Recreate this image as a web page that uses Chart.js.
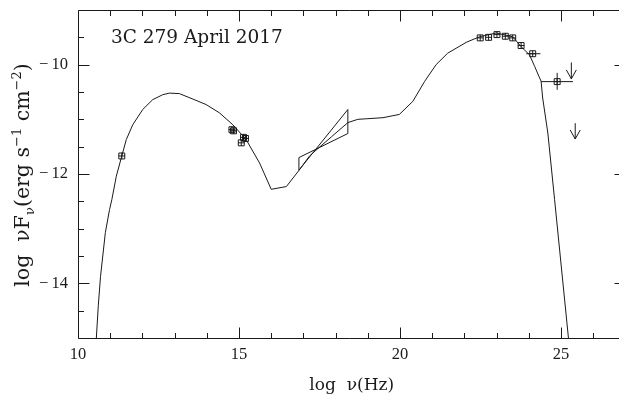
<!DOCTYPE html>
<html><head><meta charset="utf-8">
<script src="https://cdn.jsdelivr.net/npm/chart.js@4"></script>
<style>html,body{margin:0;padding:0;overflow:hidden;background:#fff}canvas{display:block}</style>
</head><body>
<canvas id="c" width="619" height="396"></canvas>
<script>
// ---- data (log nu [Hz], log nuFnu [erg s^-1 cm^-2]) ----
const modelX = [10.57,10.63,10.70,10.85,10.98,11.05,11.19,11.36,11.50,11.70,12.01,12.32,12.63,12.84,13.15,13.57,13.98,14.39,14.81,15.22,15.64,16.00,16.47,16.88,17.19,17.42,17.87,18.38,18.69,18.95,19.47,19.98,20.40,20.76,21.12,21.48,22.06,22.47,22.99,23.50,23.76,24.02,24.18,24.31,24.38,24.43,24.59,24.80,25.23];
const modelY = [-15.00,-14.41,-13.87,-13.07,-12.65,-12.47,-12.04,-11.67,-11.37,-11.10,-10.82,-10.64,-10.55,-10.52,-10.53,-10.63,-10.73,-10.88,-11.10,-11.37,-11.80,-12.28,-12.23,-11.92,-11.67,-11.55,-11.32,-11.06,-11.00,-10.99,-10.97,-10.91,-10.67,-10.31,-10.00,-9.79,-9.59,-9.49,-9.42,-9.49,-9.67,-9.82,-10.03,-10.21,-10.30,-10.61,-11.25,-12.47,-15.00];

const bowtieX = [16.86,18.38,18.38,16.86,16.86];
const bowtieY = [-11.70,-11.26,-10.82,-11.93,-11.70];

const obsX = [11.36,14.78,14.83,15.14,15.20,15.07,22.49,22.75,23.01,23.27,23.50,23.76,24.12,24.88];
const obsY = [-11.67,-11.19,-11.21,-11.33,-11.35,-11.43,-9.51,-9.50,-9.45,-9.48,-9.51,-9.65,-9.80,-10.31];

const errX   = [24.12,24.88];
const errY   = [-9.80,-10.31];
const errXlo = [23.92,24.38];
const errXhi = [24.36,25.37];
const errYlo = [-9.80,-10.46];
const errYhi = [-9.80,-10.15];

const ulX    = [25.32,25.44];
const ulYtop = [-9.96,-11.07];
const ulYtip = [-10.26,-11.36];

const xTickValues = [10,15,20,25];
const xTickLabels = ['10','15','20','25'];
const yTickValues = [-14,-12,-10];
const yTickLabels = ['−14','−12','−10'];
const xMinorValues = [11,12,13,14,16,17,18,19,21,22,23,24,26];
const yMinorValues = [-14.5,-13.5,-13,-12.5,-11.5,-11,-10.5,-9.5];

const xMin = 10, xVisibleMax = 26.8, xFrameMax = 27;   // right frame edge lies just outside the picture
const yMin = -15, yMax = -9;

const titleText = '3C 279 April 2017';
const xTitle = 'log  ν(Hz)';

const ink = '#1a1a1a';

const pts = (xs, ys) => xs.map((v,i)=>({x:v, y:ys[i]}));

const framePlugin = {
  id: 'frame',
  afterDatasetsDraw(chart){
    const {ctx, chartArea:a, scales:{x, y}} = chart;
    ctx.save();
    ctx.strokeStyle = ink; ctx.lineWidth = 1;
    const L = Math.round(a.left)+0.5, R = Math.round(x.getPixelForValue(xFrameMax))+0.5,
          T = Math.round(a.top)+0.5, B = Math.round(a.bottom)+0.5;
    ctx.beginPath();
    ctx.moveTo(R, T); ctx.lineTo(L, T); ctx.lineTo(L, B); ctx.lineTo(R, B);
    ctx.stroke();
    const xt = (v, len) => {
      const p = Math.round(x.getPixelForValue(v))+0.5;
      ctx.beginPath(); ctx.moveTo(p,B); ctx.lineTo(p,B-len);
      ctx.moveTo(p,T); ctx.lineTo(p,T+len); ctx.stroke();
    };
    const yt = (v, len) => {
      const p = Math.round(y.getPixelForValue(v))+0.5;
      ctx.beginPath(); ctx.moveTo(L,p); ctx.lineTo(L+len,p);
      ctx.moveTo(R,p); ctx.lineTo(R-len,p); ctx.stroke();
    };
    xTickValues.forEach(v=>xt(v,11)); xMinorValues.forEach(v=>xt(v,5.5));
    yTickValues.forEach(v=>yt(v,11)); yMinorValues.forEach(v=>yt(v,5.5));

    // error bars
    ctx.beginPath();
    errX.forEach((v,i)=>{
      const py = y.getPixelForValue(errY[i]);
      ctx.moveTo(x.getPixelForValue(errXlo[i]), py);
      ctx.lineTo(x.getPixelForValue(errXhi[i]), py);
      const px = x.getPixelForValue(v);
      ctx.moveTo(px, y.getPixelForValue(errYlo[i]));
      ctx.lineTo(px, y.getPixelForValue(errYhi[i]));
    });
    ctx.stroke();

    // upper-limit arrows
    ulX.forEach((v,i)=>{
      const px = x.getPixelForValue(v);
      const p0 = y.getPixelForValue(ulYtop[i]);
      const p1 = y.getPixelForValue(ulYtip[i]);
      ctx.beginPath();
      ctx.moveTo(px,p0); ctx.lineTo(px,p1);
      ctx.moveTo(px-5,p1-9); ctx.lineTo(px,p1); ctx.lineTo(px+5,p1-9);
      ctx.stroke();
    });

    // in-plot label
    ctx.fillStyle = ink;
    ctx.font = '18.5px "DejaVu Serif"';
    ctx.textBaseline = 'alphabetic';
    ctx.textAlign = 'left';
    ctx.fillText(titleText, a.left+33, a.top+33);

    // x-axis title, centred on the full frame
    ctx.font = '17px "DejaVu Serif"';
    ctx.textAlign = 'center';
    ctx.fillText(xTitle, x.getPixelForValue((xMin+xFrameMax)/2), 390);
    ctx.textAlign = 'left';

    // y-axis title with sub/superscripts
    const big = '20.5px "DejaVu Serif"', small = '13px "DejaVu Serif"';
    const parts = [
      ['log  νF', big, 0],
      ['ν', small, 4.5],
      ['(erg s', big, 0],
      ['−1', small, -8.5],
      [' cm', big, 0],
      ['−2', small, -8.5],
      [')', big, 0]
    ];
    let total = 0;
    parts.forEach(p=>{ctx.font=p[1]; total += ctx.measureText(p[0]).width;});
    ctx.translate(29, 175);
    ctx.rotate(-Math.PI/2);
    let cx = -total/2;
    parts.forEach(p=>{ctx.font=p[1]; ctx.fillText(p[0], cx, p[2]); cx += ctx.measureText(p[0]).width;});
    ctx.restore();
  }
};

new Chart(document.getElementById('c'), {
  type: 'scatter',
  data: {
    datasets: [
      {type:'line', data: pts(modelX, modelY), borderColor: ink, borderWidth: 1, pointRadius: 0, tension: 0, fill: false},
      {type:'line', data: pts(bowtieX, bowtieY), borderColor: ink, borderWidth: 1, pointRadius: 0, tension: 0, fill: false},
      {data: pts(obsX, obsY), pointStyle: 'rect', pointRadius: 4.2, borderColor: ink, borderWidth: 1, backgroundColor: 'rgba(0,0,0,0)'},
      {data: pts(obsX, obsY), pointStyle: 'cross', pointRadius: 3.2, borderColor: ink, borderWidth: 1}
    ]
  },
  options: {
    responsive: false, animation: false, devicePixelRatio: 1,
    layout: {autoPadding: false, padding: {left: 0, right: 0, top: 10, bottom: 0}},
    plugins: {legend: {display: false}, tooltip: {enabled: false}},
    scales: {
      x: {
        type: 'linear', min: xMin, max: xVisibleMax,
        grid: {display: false, drawTicks: false}, border: {display: false},
        afterBuildTicks: s => { s.ticks = xTickValues.map(v=>({value:v})); },
        afterFit: s => { s.height = 58; s.paddingLeft = 0; s.paddingRight = 0; },
        ticks: {padding: 7, color: ink, font: {family: 'Liberation Serif', size: 16.5},
                callback: v => xTickLabels[xTickValues.indexOf(v)], maxRotation: 0, autoSkip: false},
        title: {display: false}
      },
      y: {
        type: 'linear', min: yMin, max: yMax,
        grid: {display: false, drawTicks: false}, border: {display: false},
        afterBuildTicks: s => { s.ticks = yTickValues.map(v=>({value:v})); },
        afterFit: s => { s.width = 78; s.paddingTop = 0; s.paddingBottom = 0; },
        ticks: {padding: 10, color: ink, font: {family: 'Liberation Serif', size: 16.5},
                callback: v => { const l = yTickLabels[yTickValues.indexOf(v)]; return l ? l.replace('−','−\u2009') : ''; }, autoSkip: false}
      }
    }
  },
  plugins: [framePlugin]
});
</script>
</body></html>
